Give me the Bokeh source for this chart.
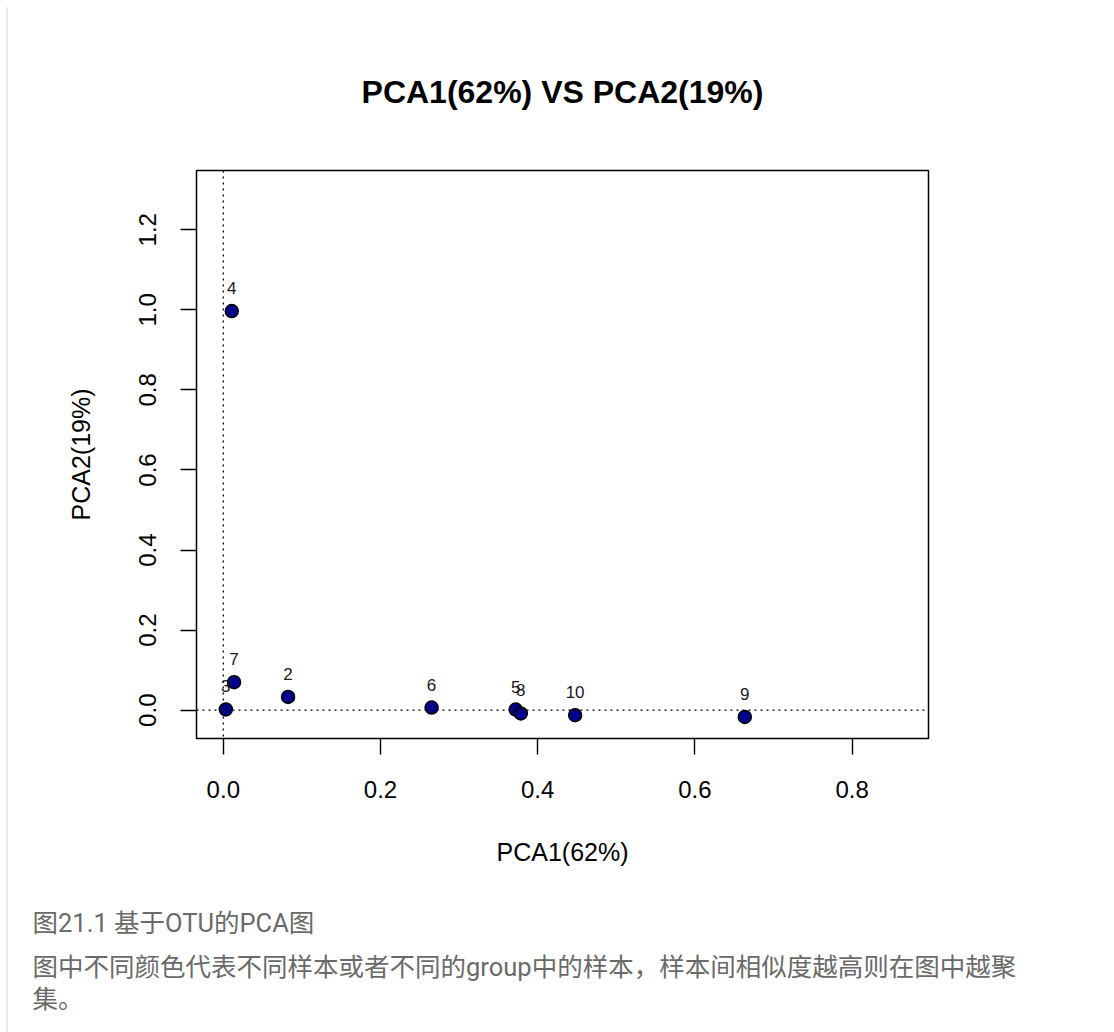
from bokeh.plotting import figure
from bokeh.models import (Range1d, FixedTicker, PrintfTickFormatter, Span, Title,
                          ColumnDataSource, InlineStyleSheet)
from bokeh.core.properties import value
from bokeh.embed import file_html
from bokeh.resources import INLINE

# PCA sample scores
samples = ["3", "7", "2", "6", "5", "8", "10", "9", "4"]
pca1 = [0.0032, 0.0137, 0.0824, 0.265, 0.372, 0.3785, 0.4476, 0.6635, 0.0108]
pca2 = [0.002, 0.070, 0.033, 0.0067, 0.0017, -0.0082, -0.0125, -0.0167, 0.997]

x_ticks = [0.0, 0.2, 0.4, 0.6, 0.8]
y_ticks = [0.0, 0.2, 0.4, 0.6, 0.8, 1.0, 1.2]

title_text = "PCA1(62%) VS PCA2(19%)"
x_label = "PCA1(62%)"
y_label = "PCA2(19%)"
caption_title = "图21.1 基于OTU的PCA图"
caption_body = ["图中不同颜色代表不同样本或者不同的group中的样本，样本间相似度越高则在图中越聚",
                "集。"]

# page geometry
W, H = 1114, 1032
FL, FT, FW, FH = 196, 170, 732, 568
X0, X1 = -0.0341, 0.8972
Y0, Y1 = -0.0707, 1.348

FONT = value("Liberation Sans")

p = figure(width=W, height=H, output_backend="svg", toolbar_location=None,
           x_range=Range1d(X0, X1), y_range=Range1d(Y0, Y1),
           min_border_left=FL, min_border_top=FT,
           min_border_right=W - FL - FW, min_border_bottom=H - FT - FH)

p.border_fill_color = None
p.background_fill_color = "white"
p.stylesheets = [InlineStyleSheet(css=(
    ":host { background: #fff linear-gradient(#ebebeb, #ebebeb) no-repeat 6px 7px / 2px calc(100% - 7px); }"))]

p.xgrid.visible = False
p.ygrid.visible = False
p.outline_line_color = "black"
p.outline_line_width = 1.5
p.outline_line_alpha = 1.0

for ax in (p.xaxis[0], p.yaxis[0]):
    ax.axis_line_color = None
    ax.major_tick_line_color = "black"
    ax.major_tick_line_width = 1.4
    ax.major_tick_out = 16
    ax.major_tick_in = 0
    ax.minor_tick_line_color = None
    ax.major_label_text_font = "Liberation Sans"
    ax.major_label_text_font_size = "24px"
    ax.major_label_text_color = "black"
    ax.axis_label_text_font = "Liberation Sans"
    ax.axis_label_text_font_size = "25px"
    ax.axis_label_text_font_style = "normal"
    ax.axis_label_text_color = "black"
    ax.formatter = PrintfTickFormatter(format="%.1f")

p.xaxis[0].ticker = FixedTicker(ticks=x_ticks)
p.yaxis[0].ticker = FixedTicker(ticks=y_ticks)
p.xaxis[0].axis_label = x_label
p.yaxis[0].axis_label = y_label
p.xaxis[0].major_label_standoff = 26
p.yaxis[0].major_label_standoff = 24
p.xaxis[0].axis_label_standoff = 37
p.yaxis[0].axis_label_standoff = 42
p.yaxis[0].major_label_orientation = "vertical"

# reference lines through the origin
p.add_layout(Span(location=0, dimension="height", line_color="black",
                  line_width=1.3, line_dash="2 4"))
p.add_layout(Span(location=0, dimension="width", line_color="black",
                  line_width=1.3, line_dash="2 4"))

src = ColumnDataSource(dict(x=pca1, y=pca2, name=samples))
p.scatter("x", "y", source=src, size=13, fill_color="#00008B",
          line_color="black", line_width=1.5)
p.text("x", "y", text="name", source=src, y_offset=-23, text_align="center",
       text_baseline="middle", text_font=FONT, text_font_size="17px",
       text_color="#1a1a1a")

# chart title
p.title = Title(text=title_text, align="center", text_font="Liberation Sans",
                text_font_size="32px", text_font_style="bold",
                text_color="black", standoff=122)

# blank gap between the axis label and the caption
p.add_layout(Title(text=" ", text_font_size="1px", standoff=21.6), "below")

# figure caption, stacked under the x axis
CAP_FONT = "Roboto, Noto Sans CJK SC"
cap_lines = [caption_title] + caption_body
cap_standoff = [23.8, 0, 0]
for line, so in zip(cap_lines, cap_standoff):
    p.add_layout(Title(text=line, align="left", offset=32 - FL,
                       text_font=CAP_FONT, text_font_size="25.5px",
                       text_font_style="normal", text_color="#6a6a6a",
                       standoff=so), "below")

open("out.html", "w").write(file_html(p, INLINE))
